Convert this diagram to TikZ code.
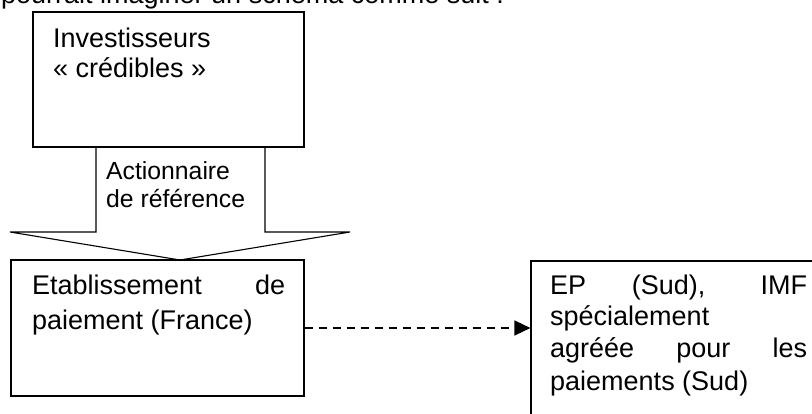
\documentclass[tikz,border=0pt]{standalone}
\usepackage{fontspec}
\setmainfont{Liberation Sans}
\usetikzlibrary{arrows.meta}
\begin{document}
\begin{tikzpicture}[x=1pt,y=-1pt,
  boxstyle/.style={draw=black, line width=1.1pt, rectangle, inner sep=0pt},
  bigtxt/.style={anchor=base west, inner sep=0pt, font=\fontsize{27}{31}\selectfont},
  smalltxt/.style={anchor=base west, inner sep=0pt, font=\fontsize{24.75}{28}\selectfont},
  dashline/.style={line width=1.1pt, dash pattern=on 8pt off 6pt, -{Triangle[length=16pt,width=15pt]}}]
\useasboundingbox (0,0) rectangle (812,414);
\clip (0,0) rectangle (812,414);
% text above (cropped)
\node[bigtxt] (intro) at (1,3.5) {pourrait imaginer un schéma comme suit :};
% boxes
\node[boxstyle, minimum width=271pt, minimum height=135pt] (A) at (168.5,79.5) {};
\node[boxstyle, minimum width=293pt, minimum height=136pt] (B) at (157.5,328) {};
\node[boxstyle, minimum width=300pt, minimum height=180pt] (C) at (681,351) {};
% block arrow
\coordinate (sl) at (96,147);
\coordinate (sr) at (265,147);
\coordinate (tip) at (180,260);
\draw[line width=1.1pt, line join=miter] (sl) -- (96,232) -- (10,232) -- (tip) -- (350,232) -- (265,232) -- (sr);
% texts
\node[bigtxt] (a1) at (53,48) {Investisseurs};
\node[bigtxt] (a2) at (53,78) {« crédibles »};
\node[smalltxt] (r1) at (106,180) {Actionnaire};
\node[smalltxt] (r2) at (106,208) {de référence};
\node[bigtxt] (b1) at (32,295) {\makebox[253pt][s]{Etablissement de}};
\node[bigtxt] (b2) at (32,330) {paiement (France)};
\node[bigtxt] (c1) at (550,295) {\makebox[257pt][s]{EP (Sud), IMF}};
\node[bigtxt] (c2) at (550,326) {spécialement};
\node[bigtxt] (c3) at (550,358) {\makebox[257pt][s]{agréée pour les}};
\node[bigtxt] (c4) at (550,390) {paiements (Sud)};
% dashed connector
\draw[dashline] (B.east) -- (B.east -| C.west);
\end{tikzpicture}
\end{document}
